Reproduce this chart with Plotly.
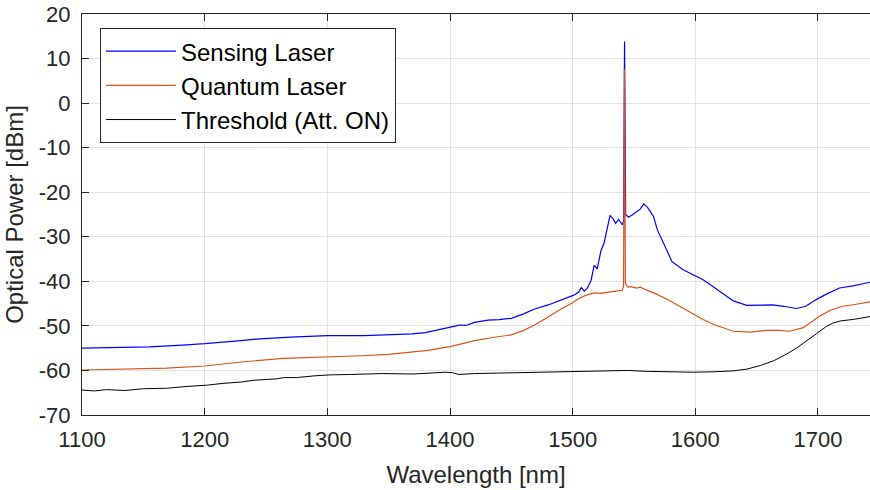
import plotly.graph_objects as go

# ---------------- data ----------------
sensing_wl = [1100, 1130, 1155, 1182, 1200, 1225, 1245, 1270, 1300, 1330, 1350, 1369, 1380,
              1391, 1400, 1405, 1408, 1413, 1420, 1431, 1440, 1450, 1460, 1469, 1480, 1491,
              1501, 1505, 1507, 1509.5, 1512, 1515, 1517.5, 1520, 1523, 1525.6, 1528, 1530.5,
              1533, 1535, 1537.5, 1540.5, 1541.5, 1542.3, 1543.2, 1545.5, 1548.5, 1552.5, 1555,
              1558, 1561, 1563.5, 1566, 1569, 1573, 1577, 1581, 1590, 1598.5, 1606, 1612, 1620,
              1631, 1642, 1652, 1663, 1672, 1682.5, 1690, 1698.5, 1708, 1717.5, 1728.5, 1742.5]
sensing_db = [-55.0, -54.9, -54.7, -54.3, -54.0, -53.4, -52.9, -52.5, -52.2, -52.2, -52.0, -51.8, -51.5,
              -50.9, -50.4, -50.0, -49.8, -49.9, -49.2, -48.7, -48.6, -48.3, -47.3, -46.2, -45.3, -44.1,
              -43.1, -42.4, -41.4, -42.2, -41.5, -39.8, -36.4, -37.2, -33.2, -31.4, -28.0, -25.2,
              -26.0, -27.0, -26.1, -27.3, -26.5, 13.8, -25.0, -25.6, -25.1, -24.3, -23.8,
              -22.6, -23.4, -24.4, -25.5, -28.4, -30.9, -33.5, -35.6, -37.4, -38.6, -39.6, -40.7, -42.2,
              -44.4, -45.4, -45.4, -45.3, -45.6, -46.1, -45.6, -44.1, -42.7, -41.5, -41.0, -40.2]

quantum_wl = [1100, 1135, 1169, 1200, 1230, 1264, 1302, 1328, 1350, 1382, 1401, 1420, 1435, 1450,
              1460, 1469, 1480, 1490.5, 1500, 1504, 1510, 1517.5, 1522.5, 1528.5, 1535, 1540.5,
              1541.5, 1542.2, 1543.0, 1545, 1547.5, 1552, 1555.5, 1558, 1567, 1577, 1588, 1598.5,
              1606, 1615, 1623, 1631, 1644.5, 1658, 1668, 1677, 1688, 1695, 1701.5, 1710, 1720,
              1730, 1742.5]
quantum_db = [-59.9, -59.7, -59.5, -59.0, -58.1, -57.3, -57.0, -56.7, -56.4, -55.5, -54.6, -53.3, -52.6, -52.0,
              -51.0, -49.8, -48.0, -46.2, -44.8, -44.0, -43.2, -42.6, -42.7, -42.4, -42.2, -42.0,
              -41.0, 7.6, -40.5, -41.3, -41.2, -41.5, -41.3, -41.7, -42.7, -44.0, -45.7, -47.5,
              -48.5, -49.7, -50.5, -51.2, -51.4, -51.0, -51.0, -51.2, -50.4, -49.0, -47.8, -46.5, -45.6,
              -45.2, -44.6]

threshold_wl = [1100, 1110, 1120, 1135, 1150, 1169, 1185, 1202, 1215, 1230, 1240, 1250, 1258, 1265,
                1275, 1290, 1302, 1320, 1345, 1370, 1385, 1396, 1402, 1407, 1420, 1440, 1463, 1490,
                1517, 1523, 1545, 1560, 1580, 1598.5, 1615, 1631, 1642, 1653, 1664, 1674, 1683,
                1691, 1699, 1707, 1712, 1718, 1730, 1742.5]
threshold_db = [-64.4, -64.6, -64.3, -64.5, -64.1, -64.0, -63.6, -63.3, -62.9, -62.6, -62.2, -62.1, -61.9, -61.6,
                -61.6, -61.2, -61.0, -60.9, -60.7, -60.8, -60.6, -60.4, -60.5, -60.9, -60.7, -60.6, -60.5, -60.3,
                -60.1, -60.2, -60.0, -60.2, -60.3, -60.4, -60.3, -60.1, -59.7, -58.9, -57.8, -56.4, -54.9,
                -53.4, -51.7, -50.1, -49.4, -48.9, -48.5, -47.9]

x_ticks = [1100, 1200, 1300, 1400, 1500, 1600, 1700]
y_ticks = [-70, -60, -50, -40, -30, -20, -10, 0, 10, 20]

# ---------------- figure ----------------
FONT = "Liberation Sans, Arial, sans-serif"
TXT = "#262626"

fig = go.Figure()
fig.add_trace(go.Scatter(x=sensing_wl, y=sensing_db, mode="lines", name="Sensing Laser",
                         line=dict(color="#0000FF", width=1.2)))
fig.add_trace(go.Scatter(x=quantum_wl, y=quantum_db, mode="lines", name="Quantum Laser",
                         line=dict(color="#D95319", width=1.2)))
fig.add_trace(go.Scatter(x=threshold_wl, y=threshold_db, mode="lines", name="Threshold (Att. ON)",
                         line=dict(color="#000000", width=1.0)))

fig.update_layout(
    width=870, height=490,
    margin=dict(l=82, r=0, t=14, b=75, pad=0),
    paper_bgcolor="white", plot_bgcolor="white",
    font=dict(family=FONT, color=TXT, size=22),
    showlegend=True,
    legend=dict(x=0.0228, y=0.965, xanchor="left", yanchor="top",
                bgcolor="white", bordercolor=TXT, borderwidth=1,
                font=dict(family=FONT, size=24, color="#000000"),
                itemwidth=70, tracegroupgap=0),
)
fig.update_xaxes(
    range=[1100, 1742.4], tickvals=x_ticks, ticktext=[str(v) for v in x_ticks],
    showgrid=True, gridcolor="#E3E3E3", gridwidth=1, zeroline=False,
    showline=True, linecolor=TXT, linewidth=1, mirror="ticks",
    ticks="inside", ticklen=7, tickcolor=TXT, ticklabelstandoff=5,
    tickfont=dict(family=FONT, size=22, color=TXT),
    title=dict(text="Wavelength [nm]", font=dict(family=FONT, size=24, color=TXT), standoff=14),
)
fig.update_yaxes(
    range=[-70, 20], tickvals=y_ticks, ticktext=[str(v) for v in y_ticks],
    showgrid=True, gridcolor="#E3E3E3", gridwidth=1, zeroline=False,
    showline=True, linecolor=TXT, linewidth=1, mirror=False,
    ticks="inside", ticklen=7, tickcolor=TXT, ticklabelstandoff=6,
    tickfont=dict(family=FONT, size=22, color=TXT),
    title=dict(text="Optical Power [dBm]", font=dict(family=FONT, size=24, color=TXT), standoff=8),
)

fig.write_html("out.html")
